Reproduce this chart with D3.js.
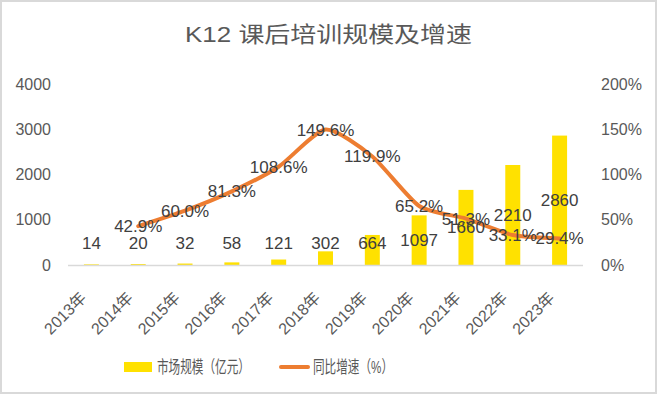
<!doctype html>
<html>
<head>
<meta charset="utf-8">
<script src="https://d3js.org/d3.v7.min.js"></script>
<style>
  body { margin: 0; background: #fff; }
  svg text { font-family: "Liberation Sans", "Noto Sans CJK SC", sans-serif; fill: #595959; }
</style>
</head>
<body>
<div id="chart"></div>
<script>
// data
var years = ["2013年", "2014年", "2015年", "2016年", "2017年", "2018年", "2019年", "2020年", "2021年", "2022年", "2023年"]
var marketSize = [14, 20, 32, 58, 121, 302, 664, 1097, 1660, 2210, 2860]
var growth = [null, 42.9, 60.0, 81.3, 108.6, 149.6, 119.9, 65.2, 51.3, 33.1, 29.4]
var leftTicks = [0, 1000, 2000, 3000, 4000]
var rightTicks = [0, 50, 100, 150, 200]

var width = 659, height = 396
var svg = d3.select("#chart").append("svg")
    .attr("width", width).attr("height", height)

// border
svg.append("rect")
    .attr("x", 1).attr("y", 1).attr("width", width - 4).attr("height", height - 4)
    .attr("fill", "#fff").attr("stroke", "#d9d9d9").attr("stroke-width", 2)

// title
svg.append("text")
    .attr("x", 185).attr("y", 42)
    .attr("textLength", 287).attr("lengthAdjust", "spacingAndGlyphs")
    .style("font-size", "22px")
    .text("K12 课后培训规模及增速")

var x = d3.scaleBand().domain(years).range([68, 583]).paddingInner(0.68).paddingOuter(0.34)
var yL = d3.scaleLinear().domain([0, 4000]).range([265, 84])
var yR = d3.scaleLinear().domain([0, 200]).range([265, 84])

// left axis labels
svg.selectAll(".lt").data(leftTicks).enter().append("text")
    .attr("x", 51).attr("y", function(d) { return yL(d) })
    .attr("dy", "0.35em").attr("text-anchor", "end")
    .style("font-size", "16px")
    .text(function(d) { return d })

// right axis labels
svg.selectAll(".rt").data(rightTicks).enter().append("text")
    .attr("x", 601).attr("y", function(d) { return yR(d) })
    .attr("dy", "0.35em").attr("text-anchor", "start")
    .style("font-size", "16px")
    .text(function(d) { return d + "%" })

// bars
svg.selectAll(".bar").data(marketSize).enter().append("rect")
    .attr("x", function(d, i) { return x(years[i]) })
    .attr("width", x.bandwidth())
    .attr("y", function(d) { return yL(d) })
    .attr("height", function(d) { return yL(0) - yL(d) })
    .attr("fill", "#ffe100")

// baseline
svg.append("line")
    .attr("x1", 68).attr("x2", 583).attr("y1", 265.5).attr("y2", 265.5)
    .attr("stroke", "#d9d9d9").attr("stroke-width", 1.5)

// x labels
svg.selectAll(".xl").data(years).enter().append("text")
    .attr("transform", function(d) {
        return "translate(" + (x(d) + x.bandwidth() / 2 - 12) + ",291) rotate(-45)"
    })
    .attr("text-anchor", "end").attr("dy", "0.7em")
    .style("font-size", "16px")
    .text(function(d) { return d })

// line
var pts = growth.map(function(g, i) { return {x: x(years[i]) + x.bandwidth() / 2, g: g} })
    .filter(function(p) { return p.g !== null })
var line = d3.line()
    .x(function(p) { return p.x })
    .y(function(p) { return yR(p.g) })
    .curve(d3.curveCardinal.tension(0.35))
svg.append("path")
    .attr("d", line(pts))
    .attr("fill", "none").attr("stroke", "#ed7d31")
    .attr("stroke-width", 4).attr("stroke-linecap", "round").attr("stroke-linejoin", "round")

// bar labels
svg.selectAll(".bl").data(marketSize).enter().append("text")
    .attr("x", function(d, i) { return x(years[i]) + x.bandwidth() / 2 })
    .attr("y", function(d) { return Math.min((yL(d) + yL(0)) / 2, 243) })
    .attr("dy", "0.35em").attr("text-anchor", "middle")
    .style("font-size", "17px").style("fill", "#404040")
    .text(function(d) { return d })

// growth labels
svg.selectAll(".gl").data(pts).enter().append("text")
    .attr("x", function(p) { return p.x })
    .attr("y", function(p) { return yR(p.g) })
    .attr("dy", "0.35em").attr("text-anchor", "middle")
    .style("font-size", "17px").style("fill", "#404040")
    .text(function(p) { return p.g.toFixed(1) + "%" })

// legend
svg.append("rect").attr("x", 124).attr("y", 362).attr("width", 28).attr("height", 10).attr("fill", "#ffe100")
svg.append("text").attr("x", 157).attr("y", 367).attr("dy", "0.35em")
    .attr("textLength", 93).attr("lengthAdjust", "spacingAndGlyphs")
    .style("font-size", "17px").text("市场规模（亿元）")
svg.append("line").attr("x1", 281).attr("x2", 308).attr("y1", 367).attr("y2", 367)
    .attr("stroke", "#ed7d31").attr("stroke-width", 4).attr("stroke-linecap", "round")
svg.append("text").attr("x", 313).attr("y", 367).attr("dy", "0.35em")
    .attr("textLength", 80).attr("lengthAdjust", "spacingAndGlyphs")
    .style("font-size", "17px").text("同比增速（%）")
</script>
</body>
</html>
